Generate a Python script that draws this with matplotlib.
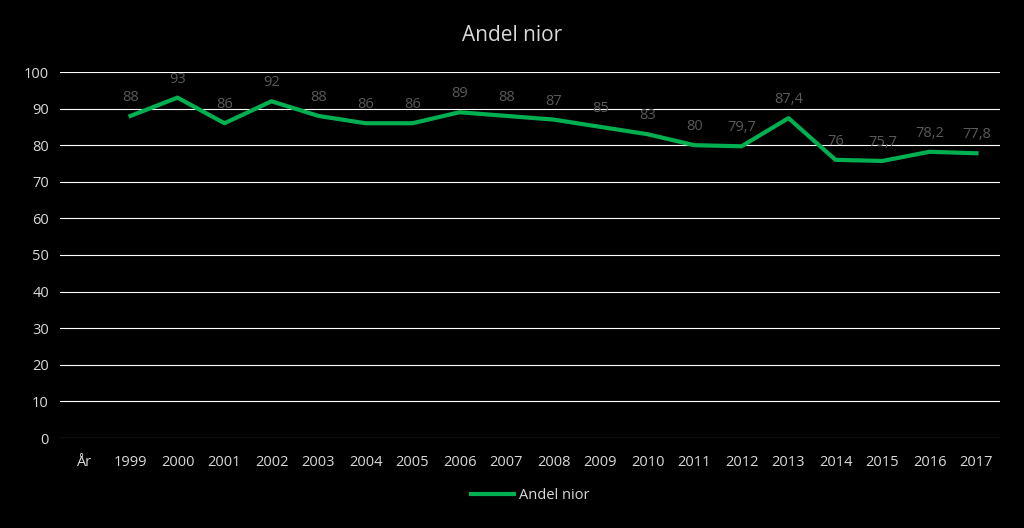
import matplotlib.pyplot as plt
import numpy as np

plt.rcParams['font.family'] = ['Open Sans', 'DejaVu Sans']

categories = ['År', '1999', '2000', '2001', '2002', '2003', '2004', '2005', '2006', '2007',
              '2008', '2009', '2010', '2011', '2012', '2013', '2014', '2015', '2016', '2017']
values = [np.nan, 88, 93, 86, 92, 88, 86, 86, 89, 88, 87, 85, 83, 80, 79.7, 87.4, 76, 75.7, 78.2, 77.8]
labels = ['', '88', '93', '86', '92', '88', '86', '86', '89', '88', '87', '85', '83', '80',
          '79,7', '87,4', '76', '75,7', '78,2', '77,8']

GREEN = '#00B050'
TXT = '#D9D9D9'
LBL = '#595959'

fig = plt.figure(figsize=(10.24, 5.28), dpi=100, facecolor='black')
ax = fig.add_axes([60/1024, 1-438/528, 940/1024, 366/528], facecolor='black')
x = np.arange(len(categories))
ax.plot(x, values, color=GREEN, lw=3, solid_joinstyle='round')
for xi, v, t in zip(x, values, labels):
    if t:
        ax.text(xi, v + 3, t, ha='center', va='bottom', color=LBL, fontsize=10.5)

ax.set_xlim(-0.5, len(categories) - 0.5)
ax.set_ylim(0, 100)
ax.set_yticks(range(0, 101, 10))
ax.set_xticks(x)
ax.set_xticklabels(categories)
ax.grid(axis='y', color='white', lw=0.8)
ax.set_axisbelow(True)
for s in ax.spines.values():
    s.set_visible(False)
ax.tick_params(colors=TXT, labelsize=10.5, length=0, pad=8)
ax.tick_params(axis='x', pad=12)

fig.text(0.5, 1-36/528, 'Andel nior', ha='center', va='center', color=TXT, fontsize=15)
ax.legend(['Andel nior'], loc='upper center', bbox_to_anchor=(0.5, -0.1), frameon=False,
          labelcolor=TXT, fontsize=10.5, handlelength=3, handletextpad=0.3)

fig.savefig('out.png', dpi=100, facecolor='black')
